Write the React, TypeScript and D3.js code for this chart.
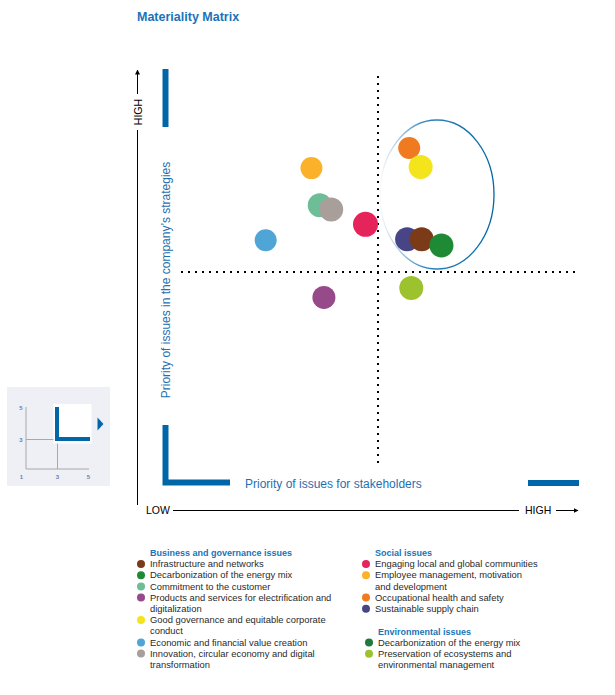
import React from "react";
import * as d3 from "d3";

const issues = [
  "Occupational health and safety",
  "Good governance and equitable corporate conduct",
  "Employee management, motivation and development",
  "Commitment to the customer",
  "Innovation, circular economy and digital transformation",
  "Engaging local and global communities",
  "Economic and financial value creation",
  "Sustainable supply chain",
  "Infrastructure and networks",
  "Decarbonization of the energy mix",
  "Preservation of ecosystems and environmental management",
  "Products and services for electrification and digitalization",
];
const stakeholderScore = [3.3, 3.41, 2.36, 2.44, 2.55, 2.88, 1.92, 3.28, 3.42, 3.61, 3.32, 2.48];
const strategyScore = [4.17, 3.99, 3.98, 3.63, 3.59, 3.45, 3.3, 3.31, 3.31, 3.25, 2.85, 2.76];
const issueColors = [
  "#F07A20", "#F4E41C", "#FBB12A", "#6DBE96", "#A89F9A", "#E6245C",
  "#4FA6D6", "#474585", "#7B3A18", "#1F8A35", "#9CC32E", "#974A8A",
];
const radii = [11, 12, 11, 12, 12, 12.5, 11, 12, 12, 12, 12, 11.5];

const businessHeader = "Business and governance issues";
const businessItems = [
  ["Infrastructure and networks"],
  ["Decarbonization of the energy mix"],
  ["Commitment to the customer"],
  ["Products and services for electrification and", "digitalization"],
  ["Good governance and equitable corporate", "conduct"],
  ["Economic and financial value creation"],
  ["Innovation, circular economy and digital", "transformation"],
];
const businessColors = ["#7B3A18", "#1F8A35", "#6DBE96", "#974A8A", "#F4E41C", "#4FA6D6", "#A89F9A"];
const socialHeader = "Social issues";
const socialItems = [
  ["Engaging local and global communities"],
  ["Employee management, motivation", "and development"],
  ["Occupational health and safety"],
  ["Sustainable supply chain"],
];
const socialColors = ["#E6245C", "#FBB12A", "#F07A20", "#474585"];
const envHeader = "Environmental issues";
const envItems = [
  ["Decarbonization of the energy mix"],
  ["Preservation of ecosystems and", "environmental management"],
];
const envColors = ["#1F7A3E", "#9CC32E"];

const axisDomain = [1, 5];
const midValue = 3;
const insetTicks = ["1", "3", "5"];

const BLUE = "#0066A8";
const FONT = "'Liberation Sans', Arial, sans-serif";

function Legend({ x, y, header, items, colors, lh }: any) {
  let line = 0;
  const out: any[] = [];
  items.forEach((lines: string[], i: number) => {
    const yy = y + lh * (line + 1);
    out.push(<circle key={"c" + i} cx={x - 9} cy={yy - 3.2} r={4} fill={colors[i]} />);
    lines.forEach((t, j) => {
      out.push(
        <text key={"t" + i + "_" + j} x={x} y={y + lh * (line + 1 + j)} fontSize={9.4} fill="#2a2a2a">
          {t}
        </text>
      );
    });
    line += lines.length;
  });
  return (
    <g fontFamily={FONT}>
      <text x={x} y={y} fontSize={9} fontWeight="bold" fill="#1a73b8">{header}</text>
      {out}
    </g>
  );
}

export default function App() {
  const xScale = d3.scaleLinear().domain(axisDomain).range([170, 586]);
  const yScale = d3.scaleLinear().domain(axisDomain).range([484, 60]);
  const mx = xScale(midValue);
  const my = yScale(midValue);

  const vDots = d3.range(76, 466, 7);
  const hDots = d3.range(181, 580, 7);

  const lh = 11.2;

  return (
    <svg width={615} height={695} style={{ position: "absolute", left: 0, top: 0 }} fontFamily={FONT}>
      <defs>
        <linearGradient id="ellg" x1="0" x2="1" y1="0" y2="0">
          <stop offset="0" stopColor={BLUE} stopOpacity={0.03} />
          <stop offset="0.4" stopColor={BLUE} stopOpacity={0.8} />
          <stop offset="1" stopColor={BLUE} stopOpacity={1} />
        </linearGradient>
        <marker id="arr" viewBox="0 0 10 10" refX="9" refY="5" markerWidth="5" markerHeight="5" orient="auto">
          <path d="M0,0 L10,5 L0,10 z" fill="#000" />
        </marker>
      </defs>

      <text x={137} y={21} fontSize={12.5} fontWeight="bold" fill="#1a73b8">Materiality Matrix</text>

      {/* left arrow axis */}
      <line x1={137.5} x2={137.5} y1={505} y2={130} stroke="#000" strokeWidth={1} />
      <line x1={137.5} x2={137.5} y1={94} y2={70} stroke="#000" strokeWidth={1} markerEnd="url(#arr)" />
      <text transform="translate(141.5,112) rotate(-90)" textAnchor="middle" fontSize={10.5} fill="#000">HIGH</text>

      {/* bottom arrow axis */}
      <text x={146} y={514} fontSize={10.5} fill="#000">LOW</text>
      <line x1={173} x2={519} y1={510.5} y2={510.5} stroke="#000" strokeWidth={1} />
      <text x={525} y={514} fontSize={10.5} fill="#000">HIGH</text>
      <line x1={556} x2={578} y1={510.5} y2={510.5} stroke="#000" strokeWidth={1} markerEnd="url(#arr)" />

      {/* blue frame */}
      <rect x={162.5} y={69} width={6} height={58} fill={BLUE} />
      <path d={`M165.5,425 V482.5 H230`} fill="none" stroke={BLUE} strokeWidth={6} />
      <rect x={528} y={480} width={51} height={6} fill={BLUE} />
      <text transform="translate(169.5,280) rotate(-90)" textAnchor="middle" fontSize={12} fill="#1F6FB0">
        Priority of issues in the company’s strategies
      </text>
      <text x={245} y={487.5} fontSize={12} fill="#1F6FB0">Priority of issues for stakeholders</text>

      {/* dotted mid lines */}
      {vDots.map((d) => (
        <rect key={"v" + d} x={mx - 1} y={d} width={2} height={2} fill="#000" />
      ))}
      {hDots.map((d) => (
        <rect key={"h" + d} x={d} y={my - 1} width={2} height={2} fill="#000" />
      ))}

      {/* highlight ellipse */}
      <ellipse cx={437} cy={194.5} rx={57} ry={74.5} fill="none" stroke="url(#ellg)" strokeWidth={1.3} />

      {/* bubbles */}
      {issues.map((name, i) => (
        <circle key={name} cx={xScale(stakeholderScore[i])} cy={yScale(strategyScore[i])} r={radii[i]} fill={issueColors[i]}>
          <title>{name}</title>
        </circle>
      ))}

      {/* inset */}
      <g>
        <rect x={7} y={387} width={103} height={99} fill="#EEF0F5" />
        <line x1={26} x2={26} y1={407} y2={469} stroke="#A8A8A8" strokeWidth={1} />
        <line x1={26} x2={89} y1={469} y2={469} stroke="#A8A8A8" strokeWidth={1} />
        <line x1={57.5} x2={57.5} y1={469} y2={440} stroke="#A8A8A8" strokeWidth={1} />
        <line x1={26} x2={57.5} y1={439.5} y2={439.5} stroke="#A8A8A8" strokeWidth={1} />
        <rect x={53.5} y={404} width={38} height={39.5} fill="#fff" />
        <path d="M57,407 V439 H90" fill="none" stroke={BLUE} strokeWidth={4} />
        <path d="M97.5,417.5 L103.5,424 L97.5,430.5 z" fill={BLUE} />
        <g fontSize={6} fill="#6C7FA8" textAnchor="middle" fontWeight="bold">
          <text x={21} y={410}>{insetTicks[2]}</text>
          <text x={21} y={441.5}>{insetTicks[1]}</text>
          <text x={21.5} y={479}>{insetTicks[0]}</text>
          <text x={57.5} y={479}>{insetTicks[1]}</text>
          <text x={88.5} y={479}>{insetTicks[2]}</text>
        </g>
      </g>

      {/* legends */}
      <Legend x={150} y={556} header={businessHeader} items={businessItems} colors={businessColors} lh={lh} />
      <Legend x={375} y={556} header={socialHeader} items={socialItems} colors={socialColors} lh={lh} />
      <Legend x={378} y={634.5} header={envHeader} items={envItems} colors={envColors} lh={lh} />
    </svg>
  );
}
